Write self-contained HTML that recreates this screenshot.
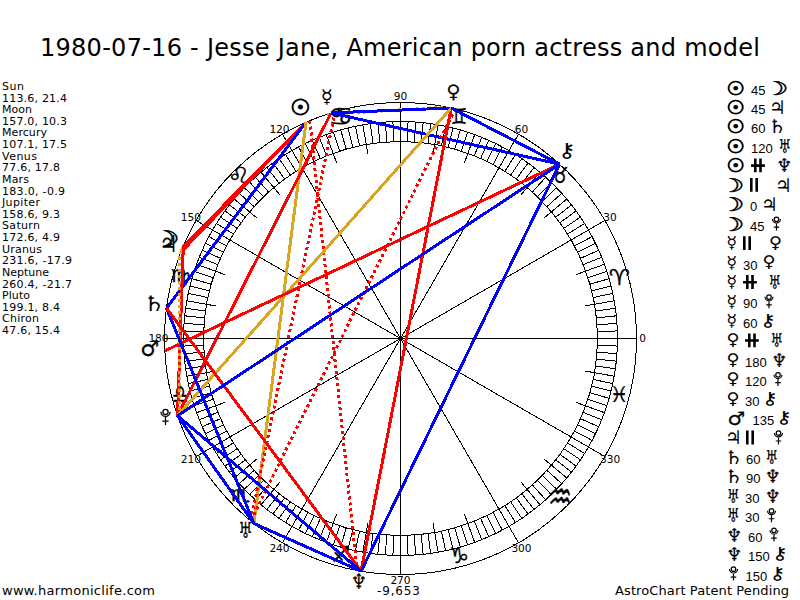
<!DOCTYPE html>
<html lang="en"><head><meta charset="utf-8"><title>1980-07-16 - Jesse Jane, American porn actress and model</title>
<style>
html,body{margin:0;padding:0;background:#fff;}
svg{display:block;}
text{font-family:"DejaVu Sans","Liberation Sans",sans-serif;fill:#000;}
.ttl{font-size:24px;}
.lst{font-size:11px;}
.deg{font-size:10.6px;}
.ft{font-size:13px;}
.num{font-family:"Liberation Sans",sans-serif;font-size:13px;}
.k{stroke:#000;stroke-width:1;fill:none;}
.g{stroke:#000;stroke-width:0.5px;}
.a{stroke-width:3;fill:none;stroke-linecap:butt;}
</style></head><body>
<svg width="800" height="600" viewBox="0 0 800 600">
<rect width="800" height="600" fill="#fff"/>
<text class="ttl" x="40" y="55.6" textLength="720">1980-07-16 - Jesse Jane, American porn actress and model</text>
<text class="lst" x="2" y="90.00" textLength="22">Sun</text>
<text class="lst" x="2" y="101.62" textLength="65">113.6, 21.4</text>
<text class="lst" x="2" y="113.24" textLength="30">Moon</text>
<text class="lst" x="2" y="124.86" textLength="65">157.0, 10.3</text>
<text class="lst" x="2" y="136.48" textLength="45">Mercury</text>
<text class="lst" x="2" y="148.10" textLength="65">107.1, 17.5</text>
<text class="lst" x="2" y="159.72" textLength="35">Venus</text>
<text class="lst" x="2" y="171.34" textLength="58">77.6, 17.8</text>
<text class="lst" x="2" y="182.96" textLength="27">Mars</text>
<text class="lst" x="2" y="194.58" textLength="63">183.0, -0.9</text>
<text class="lst" x="2" y="206.20" textLength="38">Jupiter</text>
<text class="lst" x="2" y="217.82" textLength="58">158.6, 9.3</text>
<text class="lst" x="2" y="229.44" textLength="38">Saturn</text>
<text class="lst" x="2" y="241.06" textLength="58">172.6, 4.9</text>
<text class="lst" x="2" y="252.68" textLength="40">Uranus</text>
<text class="lst" x="2" y="264.30" textLength="70">231.6, -17.9</text>
<text class="lst" x="2" y="275.92" textLength="47">Neptune</text>
<text class="lst" x="2" y="287.54" textLength="70">260.4, -21.7</text>
<text class="lst" x="2" y="299.16" textLength="28">Pluto</text>
<text class="lst" x="2" y="310.78" textLength="58">199.1, 8.4</text>
<text class="lst" x="2" y="322.40" textLength="37">Chiron</text>
<text class="lst" x="2" y="334.02" textLength="58">47.6, 15.4</text>
<text class="ft" x="2" y="595" textLength="153">www.harmoniclife.com</text>
<text class="ft" x="615" y="595" textLength="174">AstroChart Patent Pending</text>
<text style="font-size:12px" x="377" y="594.7" textLength="43">-9,653</text>
<g shape-rendering="crispEdges">
<circle class="k" cx="400.5" cy="338.5" r="236"/>
<circle class="k" cx="400.5" cy="338.5" r="217"/>
<circle class="k" cx="400.5" cy="338.5" r="197"/>
<path class="k" d="M597.38 331.62L617.37 330.93M597.02 324.76L616.97 323.36M596.42 317.91L616.31 315.82M595.58 311.08L615.39 308.30M584.66 306.03L614.20 300.82M593.20 297.54L612.76 293.38M591.65 290.84L611.05 286.00M589.87 284.20L609.09 278.69M587.86 277.62L606.88 271.44M576.22 274.54L604.41 264.28M583.16 264.70L601.70 257.21M580.47 258.37L598.74 250.24M577.56 252.14L595.54 243.37M574.44 246.01L592.10 236.62M567.57 234.11L584.53 223.51M563.82 228.34L580.40 217.16M559.88 222.71L576.06 210.95M555.74 217.21L571.50 204.90M543.75 218.30L566.73 199.02M546.90 206.68L561.76 193.30M542.21 201.65L556.60 187.76M537.35 196.79L551.24 182.40M532.32 192.10L545.70 177.24M520.70 195.25L539.98 172.27M521.79 183.26L534.10 167.50M516.29 179.12L528.05 162.94M510.66 175.18L521.84 158.60M504.89 171.43L515.49 154.47M492.99 164.56L502.38 146.90M486.86 161.44L495.63 143.46M480.63 158.53L488.76 140.26M474.30 155.84L481.79 137.30M464.46 162.78L474.72 134.59M461.38 151.14L467.56 132.12M454.80 149.13L460.31 129.91M448.16 147.35L453.00 127.95M441.46 145.80L445.62 126.24M432.97 154.34L438.18 124.80M427.92 143.42L430.70 123.61M421.09 142.58L423.18 122.69M414.24 141.98L415.64 122.03M407.38 141.62L408.07 121.63M393.62 141.62L392.93 121.63M386.76 141.98L385.36 122.03M379.91 142.58L377.82 122.69M373.08 143.42L370.30 123.61M368.03 154.34L362.82 124.80M359.54 145.80L355.38 126.24M352.84 147.35L348.00 127.95M346.20 149.13L340.69 129.91M339.62 151.14L333.44 132.12M336.54 162.78L326.28 134.59M326.70 155.84L319.21 137.30M320.37 158.53L312.24 140.26M314.14 161.44L305.37 143.46M308.01 164.56L298.62 146.90M296.11 171.43L285.51 154.47M290.34 175.18L279.16 158.60M284.71 179.12L272.95 162.94M279.21 183.26L266.90 167.50M280.30 195.25L261.02 172.27M268.68 192.10L255.30 177.24M263.65 196.79L249.76 182.40M258.79 201.65L244.40 187.76M254.10 206.68L239.24 193.30M257.25 218.30L234.27 199.02M245.26 217.21L229.50 204.90M241.12 222.71L224.94 210.95M237.18 228.34L220.60 217.16M233.43 234.11L216.47 223.51M226.56 246.01L208.90 236.62M223.44 252.14L205.46 243.37M220.53 258.37L202.26 250.24M217.84 264.70L199.30 257.21M224.78 274.54L196.59 264.28M213.14 277.62L194.12 271.44M211.13 284.20L191.91 278.69M209.35 290.84L189.95 286.00M207.80 297.54L188.24 293.38M216.34 306.03L186.80 300.82M205.42 311.08L185.61 308.30M204.58 317.91L184.69 315.82M203.98 324.76L184.03 323.36M203.62 331.62L183.63 330.93M203.62 345.38L183.63 346.07M203.98 352.24L184.03 353.64M204.58 359.09L184.69 361.18M205.42 365.92L185.61 368.70M216.34 370.97L186.80 376.18M207.80 379.46L188.24 383.62M209.35 386.16L189.95 391.00M211.13 392.80L191.91 398.31M213.14 399.38L194.12 405.56M224.78 402.46L196.59 412.72M217.84 412.30L199.30 419.79M220.53 418.63L202.26 426.76M223.44 424.86L205.46 433.63M226.56 430.99L208.90 440.38M233.43 442.89L216.47 453.49M237.18 448.66L220.60 459.84M241.12 454.29L224.94 466.05M245.26 459.79L229.50 472.10M257.25 458.70L234.27 477.98M254.10 470.32L239.24 483.70M258.79 475.35L244.40 489.24M263.65 480.21L249.76 494.60M268.68 484.90L255.30 499.76M280.30 481.75L261.02 504.73M279.21 493.74L266.90 509.50M284.71 497.88L272.95 514.06M290.34 501.82L279.16 518.40M296.11 505.57L285.51 522.53M308.01 512.44L298.62 530.10M314.14 515.56L305.37 533.54M320.37 518.47L312.24 536.74M326.70 521.16L319.21 539.70M336.54 514.22L326.28 542.41M339.62 525.86L333.44 544.88M346.20 527.87L340.69 547.09M352.84 529.65L348.00 549.05M359.54 531.20L355.38 550.76M368.03 522.66L362.82 552.20M373.08 533.58L370.30 553.39M379.91 534.42L377.82 554.31M386.76 535.02L385.36 554.97M393.62 535.38L392.93 555.37M407.38 535.38L408.07 555.37M414.24 535.02L415.64 554.97M421.09 534.42L423.18 554.31M427.92 533.58L430.70 553.39M432.97 522.66L438.18 552.20M441.46 531.20L445.62 550.76M448.16 529.65L453.00 549.05M454.80 527.87L460.31 547.09M461.38 525.86L467.56 544.88M464.46 514.22L474.72 542.41M474.30 521.16L481.79 539.70M480.63 518.47L488.76 536.74M486.86 515.56L495.63 533.54M492.99 512.44L502.38 530.10M504.89 505.57L515.49 522.53M510.66 501.82L521.84 518.40M516.29 497.88L528.05 514.06M521.79 493.74L534.10 509.50M520.70 481.75L539.98 504.73M532.32 484.90L545.70 499.76M537.35 480.21L551.24 494.60M542.21 475.35L556.60 489.24M546.90 470.32L561.76 483.70M543.75 458.70L566.73 477.98M555.74 459.79L571.50 472.10M559.88 454.29L576.06 466.05M563.82 448.66L580.40 459.84M567.57 442.89L584.53 453.49M574.44 430.99L592.10 440.38M577.56 424.86L595.54 433.63M580.47 418.63L598.74 426.76M583.16 412.30L601.70 419.79M576.22 402.46L604.41 412.72M587.86 399.38L606.88 405.56M589.87 392.80L609.09 398.31M591.65 386.16L611.05 391.00M593.20 379.46L612.76 383.62M584.66 370.97L614.20 376.18M595.58 365.92L615.39 368.70M596.42 359.09L616.31 361.18M597.02 352.24L616.97 353.64M597.38 345.38L617.37 346.07M400.5 338.5L636.50 338.50M400.5 338.5L604.88 220.50M400.5 338.5L518.50 134.12M400.5 338.5L400.50 102.50M400.5 338.5L282.50 134.12M400.5 338.5L196.12 220.50M400.5 338.5L164.50 338.50M400.5 338.5L196.12 456.50M400.5 338.5L282.50 542.88M400.5 338.5L400.50 574.50M400.5 338.5L518.50 542.88M400.5 338.5L604.88 456.50"/>
</g>
<text class="deg" x="642.5" y="342.2" text-anchor="middle">0</text>
<text class="deg" x="610.1" y="221.2" text-anchor="middle">30</text>
<text class="deg" x="521.5" y="132.6" text-anchor="middle">60</text>
<text class="deg" x="400.5" y="100.2" text-anchor="middle">90</text>
<text class="deg" x="279.5" y="132.6" text-anchor="middle">120</text>
<text class="deg" x="190.9" y="221.2" text-anchor="middle">150</text>
<text class="deg" x="158.5" y="342.2" text-anchor="middle">180</text>
<text class="deg" x="190.9" y="463.2" text-anchor="middle">210</text>
<text class="deg" x="279.5" y="551.8" text-anchor="middle">240</text>
<text class="deg" x="400.5" y="584.2" text-anchor="middle">270</text>
<text class="deg" x="521.5" y="551.8" text-anchor="middle">300</text>
<text class="deg" x="610.1" y="463.2" text-anchor="middle">330</text>
<text class="g" transform="translate(619.20 276.90) scale(1.079 1)" style="font-size:21.87px;stroke-width:0.3px;" x="-9.80" y="8.00">♈︎</text>
<text class="g" transform="translate(560.00 175.00) scale(0.890 1)" style="font-size:21.90px;stroke-width:0.3px;" x="-9.82" y="8.00">♉︎</text>
<text class="g" transform="translate(459.00 116.00) scale(0.839 1)" style="font-size:21.87px;stroke-width:0.3px;" x="-9.79" y="8.00">♊︎</text>
<text class="g" transform="translate(340.80 115.80) scale(1.084 1)" style="font-size:25.16px;stroke-width:0.3px;" x="-11.28" y="8.94">♋︎</text>
<text class="g" transform="translate(238.80 174.80) scale(1.141 1)" style="font-size:22.31px;stroke-width:0.3px;" x="-10.00" y="8.15">♌︎</text>
<text class="g" transform="translate(180.50 276.70) scale(1.269 1)" style="font-size:17.57px;stroke-width:0.3px;" x="-7.87" y="4.83">♍︎</text>
<text class="g" transform="translate(180.20 393.70) scale(0.720 1)" style="font-size:25.48px;stroke-width:0.3px;" x="-11.42" y="8.98">♎︎</text>
<text class="g" transform="translate(240.30 495.40) scale(1.400 1)" style="font-size:16.10px;stroke-width:0.3px;" x="-7.22" y="5.11">♏︎</text>
<text class="g" transform="translate(341.00 554.50) scale(0.938 1)" style="font-size:21.89px;stroke-width:0.3px;" x="-9.81" y="7.99">♐︎</text>
<text class="g" transform="translate(459.00 555.00) scale(1.032 1)" style="font-size:21.90px;stroke-width:0.3px;" x="-9.81" y="8.00">♑︎</text>
<text class="g" transform="translate(560.00 496.00) scale(0.720 1)" style="font-size:37.53px;stroke-width:0.3px;" x="-16.82" y="13.74">♒︎</text>
<text class="g" transform="translate(619.00 393.80) scale(0.965 1)" style="font-size:21.36px;stroke-width:0.3px;" x="-9.57" y="7.80">♓︎</text>
<text class="g" transform="translate(300.30 106.90) scale(1.019 1)" style="font-size:22.18px;stroke-width:0.9px;" x="-9.94" y="8.10">☉︎</text>
<text class="g" transform="translate(170.50 238.00) scale(1.450 1)" style="font-size:21.37px;stroke-width:0.45px;" x="-12.52" y="7.80">☽︎</text>
<text class="g" transform="translate(326.90 97.20) scale(1.056 1)" style="font-size:18.72px;stroke-width:0.05px;" x="-5.74" y="5.90">☿︎</text>
<text class="g" transform="translate(453.50 92.00) scale(1.049 1)" style="font-size:18.67px;stroke-width:0.12px;" x="-6.84" y="5.66">♀︎</text>
<text class="g" transform="translate(150.00 348.00) scale(0.977 1)" style="font-size:21.79px;stroke-width:0.3px;" x="-9.91" y="7.69">♂︎</text>
<text class="g" transform="translate(168.50 243.50) scale(0.883 1)" style="font-size:23.27px;stroke:none;" x="-10.42" y="8.50">♃︎</text>
<text class="g" transform="translate(154.00 303.00) scale(1.150 1)" style="font-size:21.36px;stroke-width:0.05px;" x="-9.56" y="7.80">♄︎</text>
<text class="g" transform="translate(245.60 530.00) scale(0.720 1)" style="font-size:22.59px;stroke-width:0.15px;" x="-10.11" y="8.25">♅︎</text>
<text class="g" transform="translate(358.80 581.00) scale(0.864 1)" style="font-size:21.08px;stroke-width:0.12px;" x="-9.44" y="7.70">♆︎</text>
<g fill="none" stroke="#000" stroke-width="1.3"><circle cx="165.50" cy="411.90" r="2.60"/><path d="M160.90 411.70A4.60 4.60 0 0 0 170.10 411.70"/><path d="M165.50 417.10V425.00M162.30 421.05H168.70"/></g>
<text class="g" transform="translate(567.50 151.00) scale(1.271 1)" style="font-size:19.66px;stroke-width:0.05px;" x="-7.76" y="5.97">⚷︎</text>
<g shape-rendering="crispEdges">
<line class="a" stroke="#ff0000" x1="306.0" y1="122.2" x2="183.3" y2="246.3"/>
<line class="a" stroke="#ff0000" x1="306.0" y1="122.2" x2="180.8" y2="252.4"/>
<line class="a" stroke="#0000ff" x1="306.0" y1="122.2" x2="166.5" y2="308.1"/>
<line class="a" stroke="#daa520" x1="306.0" y1="122.2" x2="253.9" y2="523.5"/>
<line class="a" stroke="#ff0000" stroke-dasharray="3 3" x1="309.8" y1="120.6" x2="357.1" y2="570.5"/>
<line class="a" stroke="#daa520" stroke-dasharray="3 3" x1="181.5" y1="250.7" x2="179.1" y2="256.8"/>
<line class="a" stroke="#daa520" x1="183.3" y1="246.3" x2="180.8" y2="252.4"/>
<line class="a" stroke="#ff0000" x1="183.3" y1="246.3" x2="177.5" y2="415.7"/>
<line class="a" stroke="#daa520" stroke-dasharray="3 3" x1="326.6" y1="114.4" x2="446.5" y2="107.0"/>
<line class="a" stroke="#0000ff" x1="331.1" y1="112.9" x2="451.2" y2="108.0"/>
<line class="a" stroke="#ff0000" stroke-dasharray="3 3" x1="335.1" y1="111.8" x2="250.7" y2="520.9"/>
<line class="a" stroke="#ff0000" x1="331.1" y1="112.9" x2="177.5" y2="415.7"/>
<line class="a" stroke="#0000ff" x1="331.1" y1="112.9" x2="559.6" y2="164.2"/>
<line class="a" stroke="#ff0000" stroke-dasharray="3 3" x1="455.2" y1="108.9" x2="250.7" y2="520.9"/>
<line class="a" stroke="#ff0000" x1="451.2" y1="108.0" x2="361.1" y2="571.2"/>
<line class="a" stroke="#daa520" x1="451.2" y1="108.0" x2="177.5" y2="415.7"/>
<line class="a" stroke="#0000ff" x1="451.2" y1="108.0" x2="559.6" y2="164.2"/>
<line class="a" stroke="#ff0000" x1="164.8" y1="350.9" x2="559.6" y2="164.2"/>
<line class="a" stroke="#daa520" stroke-dasharray="3 3" x1="179.1" y1="256.8" x2="179.1" y2="420.2"/>
<line class="a" stroke="#0000ff" x1="166.5" y1="308.1" x2="253.9" y2="523.5"/>
<line class="a" stroke="#ff0000" x1="166.5" y1="308.1" x2="361.1" y2="571.2"/>
<line class="a" stroke="#0000ff" x1="253.9" y1="523.5" x2="361.1" y2="571.2"/>
<line class="a" stroke="#0000ff" x1="253.9" y1="523.5" x2="177.5" y2="415.7"/>
<line class="a" stroke="#0000ff" x1="361.1" y1="571.2" x2="177.5" y2="415.7"/>
<line class="a" stroke="#0000ff" x1="361.1" y1="571.2" x2="559.6" y2="164.2"/>
<line class="a" stroke="#0000ff" x1="177.5" y1="415.7" x2="559.6" y2="164.2"/>
</g>
<text class="g" transform="translate(736.00 87.60) scale(1.087 1)" style="font-size:18.89px;stroke-width:0.9px;" x="-8.47" y="6.90">☉︎</text>
<text class="num" x="751.0" y="94.5">45</text>
<text class="g" transform="translate(779.50 87.60) scale(1.450 1)" style="font-size:18.90px;stroke-width:0.45px;" x="-11.08" y="6.90">☽︎</text>
<text class="g" transform="translate(736.00 107.04) scale(1.087 1)" style="font-size:18.89px;stroke-width:0.9px;" x="-8.47" y="6.90">☉︎</text>
<text class="num" x="751.0" y="113.9">45</text>
<text class="g" transform="translate(777.25 107.04) scale(0.985 1)" style="font-size:18.89px;stroke:none;" x="-8.46" y="6.90">♃︎</text>
<text class="g" transform="translate(736.00 126.48) scale(1.087 1)" style="font-size:18.89px;stroke-width:0.9px;" x="-8.47" y="6.90">☉︎</text>
<text class="num" x="751.0" y="133.4">60</text>
<text class="g" transform="translate(777.25 126.48) scale(1.098 1)" style="font-size:18.89px;stroke-width:0.05px;" x="-8.46" y="6.90">♄︎</text>
<text class="g" transform="translate(736.00 145.92) scale(1.087 1)" style="font-size:18.89px;stroke-width:0.9px;" x="-8.47" y="6.90">☉︎</text>
<text class="num" x="751.0" y="152.8">120</text>
<text class="g" transform="translate(784.75 145.92) scale(0.770 1)" style="font-size:18.89px;stroke-width:0.15px;" x="-8.46" y="6.90">♅︎</text>
<text class="g" transform="translate(736.00 165.36) scale(1.087 1)" style="font-size:18.89px;stroke-width:0.9px;" x="-8.47" y="6.90">☉︎</text>
<path fill="#000" d="M754.0 158.5h2.6v13.8h-2.6zM759.2 158.5h2.6v13.8h-2.6zM751.0 164.3h13.8v2.6h-13.8z"/>
<text class="g" transform="translate(784.25 165.36) scale(0.948 1)" style="font-size:18.89px;stroke-width:0.12px;" x="-8.46" y="6.90">♆︎</text>
<text class="g" transform="translate(735.50 184.80) scale(1.450 1)" style="font-size:18.90px;stroke-width:0.45px;" x="-11.08" y="6.90">☽︎</text>
<path fill="#000" d="M750.0 177.9h2.6v13.8h-2.6zM755.4 177.9h2.6v13.8h-2.6z"/>
<text class="g" transform="translate(783.25 184.80) scale(0.985 1)" style="font-size:18.89px;stroke:none;" x="-8.46" y="6.90">♃︎</text>
<text class="g" transform="translate(735.50 204.24) scale(1.450 1)" style="font-size:18.90px;stroke-width:0.45px;" x="-11.08" y="6.90">☽︎</text>
<text class="num" x="750.0" y="211.1">0</text>
<text class="g" transform="translate(769.25 204.24) scale(0.985 1)" style="font-size:18.89px;stroke:none;" x="-8.46" y="6.90">♃︎</text>
<text class="g" transform="translate(735.50 223.68) scale(1.450 1)" style="font-size:18.90px;stroke-width:0.45px;" x="-11.08" y="6.90">☽︎</text>
<text class="num" x="750.0" y="230.6">45</text>
<g fill="none" stroke="#000" stroke-width="1.2"><circle cx="776.50" cy="219.28" r="2.24"/><path d="M772.53 219.11A3.97 3.97 0 0 0 780.47 219.11"/><path d="M776.50 223.77V230.58M773.74 227.17H779.26"/></g>
<text class="g" transform="translate(732.00 243.12) scale(1.091 1)" style="font-size:16.56px;stroke-width:0.05px;" x="-5.08" y="5.22">☿︎</text>
<path fill="#000" d="M743.0 236.2h2.6v13.8h-2.6zM748.4 236.2h2.6v13.8h-2.6z"/>
<text class="g" transform="translate(775.50 243.12) scale(1.106 1)" style="font-size:16.10px;stroke-width:0.12px;" x="-5.90" y="4.88">♀︎</text>
<text class="g" transform="translate(732.00 262.56) scale(1.091 1)" style="font-size:16.56px;stroke-width:0.05px;" x="-5.08" y="5.22">☿︎</text>
<text class="num" x="743.0" y="269.5">30</text>
<text class="g" transform="translate(769.00 262.56) scale(1.106 1)" style="font-size:16.10px;stroke-width:0.12px;" x="-5.90" y="4.88">♀︎</text>
<text class="g" transform="translate(732.00 282.00) scale(1.091 1)" style="font-size:16.56px;stroke-width:0.05px;" x="-5.08" y="5.22">☿︎</text>
<path fill="#000" d="M746.0 275.1h2.6v13.8h-2.6zM751.2 275.1h2.6v13.8h-2.6zM743.0 280.9h13.8v2.6h-13.8z"/>
<text class="g" transform="translate(774.75 282.00) scale(0.770 1)" style="font-size:18.89px;stroke-width:0.15px;" x="-8.46" y="6.90">♅︎</text>
<text class="g" transform="translate(732.00 301.44) scale(1.091 1)" style="font-size:16.56px;stroke-width:0.05px;" x="-5.08" y="5.22">☿︎</text>
<text class="num" x="743.0" y="308.3">90</text>
<g fill="none" stroke="#000" stroke-width="1.2"><circle cx="769.00" cy="297.04" r="2.24"/><path d="M765.03 296.87A3.97 3.97 0 0 0 772.97 296.87"/><path d="M769.00 301.53V308.34M766.24 304.93H771.76"/></g>
<text class="g" transform="translate(732.00 320.88) scale(1.091 1)" style="font-size:16.56px;stroke-width:0.05px;" x="-5.08" y="5.22">☿︎</text>
<text class="num" x="743.0" y="327.8">60</text>
<text class="g" transform="translate(768.50 320.88) scale(1.326 1)" style="font-size:16.95px;stroke-width:0.05px;" x="-6.69" y="5.14">⚷︎</text>
<text class="g" transform="translate(733.00 340.32) scale(1.106 1)" style="font-size:16.10px;stroke-width:0.12px;" x="-5.90" y="4.88">♀︎</text>
<path fill="#000" d="M748.0 333.4h2.6v13.8h-2.6zM753.2 333.4h2.6v13.8h-2.6zM745.0 339.2h13.8v2.6h-13.8z"/>
<text class="g" transform="translate(776.75 340.32) scale(0.770 1)" style="font-size:18.89px;stroke-width:0.15px;" x="-8.46" y="6.90">♅︎</text>
<text class="g" transform="translate(733.00 359.76) scale(1.106 1)" style="font-size:16.10px;stroke-width:0.12px;" x="-5.90" y="4.88">♀︎</text>
<text class="num" x="745.0" y="366.7">180</text>
<text class="g" transform="translate(779.25 359.76) scale(0.948 1)" style="font-size:18.89px;stroke-width:0.12px;" x="-8.46" y="6.90">♆︎</text>
<text class="g" transform="translate(733.00 379.20) scale(1.106 1)" style="font-size:16.10px;stroke-width:0.12px;" x="-5.90" y="4.88">♀︎</text>
<text class="num" x="745.0" y="386.1">120</text>
<g fill="none" stroke="#000" stroke-width="1.2"><circle cx="778.00" cy="374.80" r="2.24"/><path d="M774.03 374.63A3.97 3.97 0 0 0 781.97 374.63"/><path d="M778.00 379.29V386.10M775.24 382.69H780.76"/></g>
<text class="g" transform="translate(733.00 398.64) scale(1.106 1)" style="font-size:16.10px;stroke-width:0.12px;" x="-5.90" y="4.88">♀︎</text>
<text class="num" x="745.0" y="405.5">30</text>
<text class="g" transform="translate(770.50 398.64) scale(1.326 1)" style="font-size:16.95px;stroke-width:0.05px;" x="-6.69" y="5.14">⚷︎</text>
<text class="g" transform="translate(736.50 418.08) scale(1.062 1)" style="font-size:18.79px;stroke-width:0.3px;" x="-8.55" y="6.63">♂︎</text>
<text class="num" x="752.5" y="425.0">135</text>
<text class="g" transform="translate(784.50 418.08) scale(1.326 1)" style="font-size:16.95px;stroke-width:0.05px;" x="-6.69" y="5.14">⚷︎</text>
<text class="g" transform="translate(733.25 437.52) scale(0.985 1)" style="font-size:18.89px;stroke:none;" x="-8.46" y="6.90">♃︎</text>
<path fill="#000" d="M746.0 430.6h2.6v13.8h-2.6zM751.4 430.6h2.6v13.8h-2.6z"/>
<g fill="none" stroke="#000" stroke-width="1.2"><circle cx="778.50" cy="433.12" r="2.24"/><path d="M774.53 432.95A3.97 3.97 0 0 0 782.47 432.95"/><path d="M778.50 437.61V444.42M775.74 441.01H781.26"/></g>
<text class="g" transform="translate(733.75 456.96) scale(1.098 1)" style="font-size:18.89px;stroke-width:0.05px;" x="-8.46" y="6.90">♄︎</text>
<text class="num" x="746.0" y="463.9">60</text>
<text class="g" transform="translate(771.75 456.96) scale(0.770 1)" style="font-size:18.89px;stroke-width:0.15px;" x="-8.46" y="6.90">♅︎</text>
<text class="g" transform="translate(733.75 476.40) scale(1.098 1)" style="font-size:18.89px;stroke-width:0.05px;" x="-8.46" y="6.90">♄︎</text>
<text class="num" x="746.0" y="483.3">90</text>
<text class="g" transform="translate(772.75 476.40) scale(0.948 1)" style="font-size:18.89px;stroke-width:0.12px;" x="-8.46" y="6.90">♆︎</text>
<text class="g" transform="translate(733.25 495.84) scale(0.770 1)" style="font-size:18.89px;stroke-width:0.15px;" x="-8.46" y="6.90">♅︎</text>
<text class="num" x="745.0" y="502.7">30</text>
<text class="g" transform="translate(772.75 495.84) scale(0.948 1)" style="font-size:18.89px;stroke-width:0.12px;" x="-8.46" y="6.90">♆︎</text>
<text class="g" transform="translate(733.25 515.28) scale(0.770 1)" style="font-size:18.89px;stroke-width:0.15px;" x="-8.46" y="6.90">♅︎</text>
<text class="num" x="745.0" y="522.2">30</text>
<g fill="none" stroke="#000" stroke-width="1.2"><circle cx="771.50" cy="510.88" r="2.24"/><path d="M767.53 510.71A3.97 3.97 0 0 0 775.47 510.71"/><path d="M771.50 515.37V522.18M768.74 518.77H774.26"/></g>
<text class="g" transform="translate(734.25 534.72) scale(0.948 1)" style="font-size:18.89px;stroke-width:0.12px;" x="-8.46" y="6.90">♆︎</text>
<text class="num" x="748.0" y="541.6">60</text>
<g fill="none" stroke="#000" stroke-width="1.2"><circle cx="774.00" cy="530.32" r="2.24"/><path d="M770.03 530.15A3.97 3.97 0 0 0 777.97 530.15"/><path d="M774.00 534.81V541.62M771.24 538.21H776.76"/></g>
<text class="g" transform="translate(734.25 554.16) scale(0.948 1)" style="font-size:18.89px;stroke-width:0.12px;" x="-8.46" y="6.90">♆︎</text>
<text class="num" x="748.0" y="561.1">150</text>
<text class="g" transform="translate(780.50 554.16) scale(1.326 1)" style="font-size:16.95px;stroke-width:0.05px;" x="-6.69" y="5.14">⚷︎</text>
<g fill="none" stroke="#000" stroke-width="1.2"><circle cx="733.50" cy="569.20" r="2.24"/><path d="M729.53 569.03A3.97 3.97 0 0 0 737.47 569.03"/><path d="M733.50 573.69V580.50M730.74 577.09H736.26"/></g>
<text class="num" x="745.5" y="580.5">150</text>
<text class="g" transform="translate(778.00 573.60) scale(1.326 1)" style="font-size:16.95px;stroke-width:0.05px;" x="-6.69" y="5.14">⚷︎</text>
</svg></body></html>
